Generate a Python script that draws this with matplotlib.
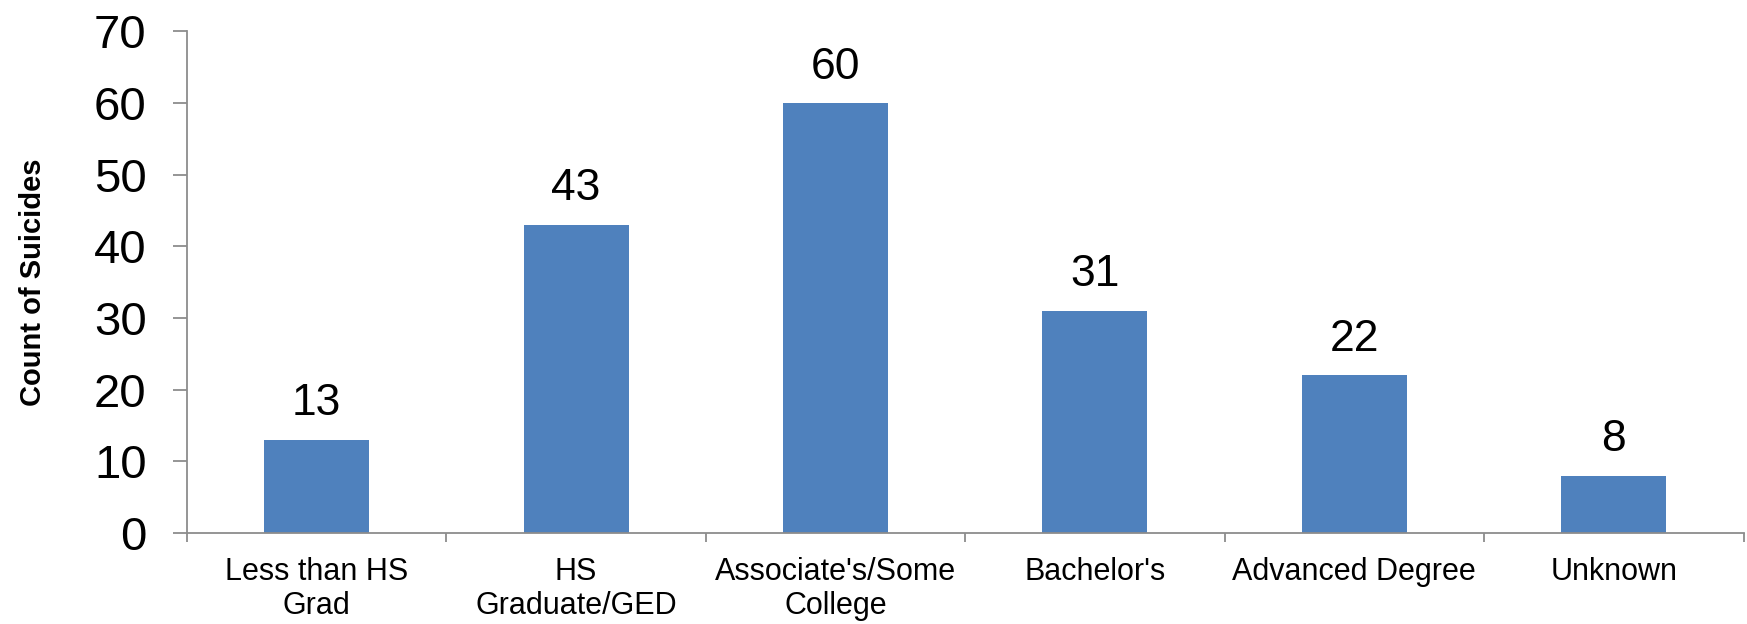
import numpy as np
import matplotlib.pyplot as plt

categories = ['Less than HS\nGrad', 'HS\nGraduate/GED', "Associate's/Some\nCollege",
              "Bachelor's", 'Advanced Degree', 'Unknown']
counts = [13, 43, 60, 31, 22, 8]

bar_color = '#4F81BD'
axis_color = '#8C8C8C'

plt.rcParams['font.family'] = ['Liberation Sans', 'DejaVu Sans']

fig = plt.figure(figsize=(17.47, 6.24), dpi=100)
ax = fig.add_axes([0.107, 0.146, 0.891, 0.804])

x = np.arange(len(categories))
bars = ax.bar(x, counts, width=0.405, color=bar_color)
ax.bar_label(bars, labels=[str(c) for c in counts], padding=11, fontsize=32)

ax.set_xlim(-0.5, len(categories) - 0.5)
ax.set_ylim(0, 70)
ax.set_yticks(np.arange(0, 71, 10))

# labels sit in the middle, ticks on the category borders
ax.set_xticks(x)
ax.set_xticklabels(categories, fontsize=22, linespacing=1.2)
ax.set_xticks(np.arange(-0.5, len(categories), 1), minor=True)
ax.tick_params(axis='x', which='major', length=0, pad=17)
ax.tick_params(axis='x', which='minor', length=6.5, width=1.3, color=axis_color, direction='out')
ax.tick_params(axis='y', length=10, width=1.3, color=axis_color, direction='out',
               labelsize=34, pad=19)

for side in ['top', 'right']:
    ax.spines[side].set_visible(False)
for side in ['left', 'bottom']:
    ax.spines[side].set_color(axis_color)
    ax.spines[side].set_linewidth(1.3)

ax.set_ylabel('Count of Suicides', fontsize=21, fontweight='bold')
ax.yaxis.set_label_coords(-0.09, 0.5)

fig.savefig('out.png', dpi=100)
